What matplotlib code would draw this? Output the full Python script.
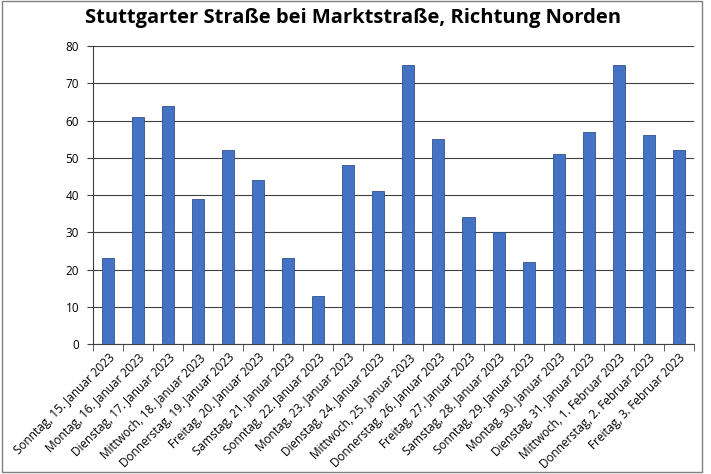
import matplotlib.pyplot as plt
import numpy as np

# Tageswerte Stuttgarter Straße, Richtung Norden
days = ['Sonntag, 15. Januar 2023', 'Montag, 16. Januar 2023', 'Dienstag, 17. Januar 2023',
        'Mittwoch, 18. Januar 2023', 'Donnerstag, 19. Januar 2023', 'Freitag, 20. Januar 2023',
        'Samstag, 21. Januar 2023', 'Sonntag, 22. Januar 2023', 'Montag, 23. Januar 2023',
        'Dienstag, 24. Januar 2023', 'Mittwoch, 25. Januar 2023', 'Donnerstag, 26. Januar 2023',
        'Freitag, 27. Januar 2023', 'Samstag, 28. Januar 2023', 'Sonntag, 29. Januar 2023',
        'Montag, 30. Januar 2023', 'Dienstag, 31. Januar 2023', 'Mittwoch, 1. Februar 2023',
        'Donnerstag, 2. Februar 2023', 'Freitag, 3. Februar 2023']
counts = [23, 61, 64, 39, 52, 44, 23, 13, 48, 41, 75, 55, 34, 30, 22, 51, 57, 75, 56, 52]
yticks = [0, 10, 20, 30, 40, 50, 60, 70, 80]

plt.rcParams['font.family'] = ['Open Sans', 'DejaVu Sans']

fig = plt.figure(figsize=(7.11, 4.74), dpi=100)
ax = fig.add_axes([0.1308, 0.274, 0.845, 0.629])

x = np.arange(len(days))
ax.bar(x, counts, width=0.4, color='#4472C4', edgecolor='#2F528F', linewidth=0.6, zorder=3)

ax.set_xlim(-0.5, len(days) - 0.5)
ax.set_ylim(0, 80)
ax.set_yticks(yticks)
ax.tick_params(axis='y', labelsize=8.5, length=4, color='#404040', pad=6)
ax.yaxis.grid(True, color='#404040', linewidth=0.8, zorder=0)

ax.set_xticks(x)
ax.set_xticklabels(days, rotation=45, ha='right', rotation_mode='anchor', fontsize=8.5)
ax.tick_params(axis='x', length=0, pad=5)
ax.set_xticks(np.arange(-0.5, len(days)), minor=True)
ax.tick_params(axis='x', which='minor', length=5, color='#404040')

for side in ['top', 'right']:
    ax.spines[side].set_visible(False)
ax.spines['left'].set_color('#404040')
ax.spines['bottom'].set_color('#404040')

fig.text(0.497, 0.962, 'Stuttgarter Straße bei Marktstraße, Richtung Norden',
         ha='center', va='center', fontsize=14.5, fontweight='bold')

# Rahmen um das Diagramm
fig.patches.append(plt.Rectangle((0.003, 0.004), 0.985, 0.994, transform=fig.transFigure,
                                 fill=False, edgecolor='#808080', linewidth=1))

plt.savefig('out.png', dpi=100)
